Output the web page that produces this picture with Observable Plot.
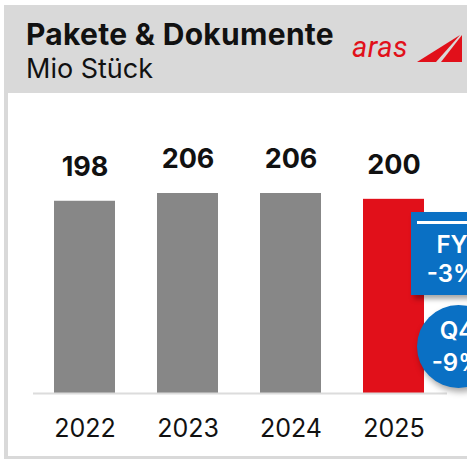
<!DOCTYPE html>
<html>
<head>
<meta charset="utf-8">
<script src="https://cdn.jsdelivr.net/npm/d3@7"></script>
<script src="https://cdn.jsdelivr.net/npm/@observablehq/plot@0.6"></script>
<style>
  html, body { margin: 0; padding: 0; background: #fff; overflow: hidden; width: 467px; height: 461px; }
  body { font-family: Inter, Roboto, sans-serif; }
  #outer { position: absolute; left: 4px; top: 5px; width: 463px; height: 454px; background: #d9d9d9; }
  #inner { position: absolute; left: 8px; top: 93px; width: 459px; height: 363px; background: #fff; }
  #title { position: absolute; left: 26px; top: 16px; font-size: 30px; font-weight: 700; color: #111; white-space: nowrap; letter-spacing: 0.3px; }
  #subtitle { position: absolute; left: 26px; top: 52px; font-size: 27px; font-weight: 400; color: #111; white-space: nowrap; }
  #logotext { position: absolute; left: 352px; top: 30px; font-family: Roboto, sans-serif; font-style: italic; font-size: 29px; line-height: 34px;
        color: #e1101a; letter-spacing: 0.5px; white-space: nowrap; padding-right: 4px; }
  #logo { position: absolute; left: 412px; top: 30px; }
  #chart { position: absolute; left: 0; top: 93px; }
  #fy { position: absolute; left: 411px; top: 212px; width: 82px; height: 83px; background: #0a70c4; color: #fff;
        box-shadow: 3px 4px 5px rgba(0,0,0,0.35); font-weight: 600; font-size: 24px; line-height: 29px; text-align: center; }
  #fy .bar { position: absolute; left: 6px; top: 9px; width: 76px; height: 3px; background: #fff; }
  #fy .t { position: absolute; left: 0; width: 82px; top: 18px; }
  #q4 { position: absolute; left: 417px; top: 305px; width: 83px; height: 83px; border-radius: 50%; background: #0a70c4; color: #fff;
        box-shadow: 2px 4px 6px rgba(0,0,0,0.35); font-weight: 600; font-size: 24px; line-height: 32px; text-align: center; }
  #q4 .t { position: absolute; left: 0; width: 80px; top: 10px; }
</style>
</head>
<body>
<div id="outer"></div>
<div id="inner"></div>
<div id="title">Pakete &amp; Dokumente</div>
<div id="subtitle">Mio Stück</div>
<div id="logotext">aras</div>
<svg id="logo" width="55" height="36" viewBox="0 0 55 36">
  <polygon points="5,32 48,5 24,32" fill="#e1101a"/>
  <polygon points="29,32 50,5 50,32" fill="#e1101a"/>
</svg>
<div id="chart"></div>
<div id="fy"><div class="bar"></div><div class="t">FY<br>-3%</div></div>
<div id="q4"><div class="t">Q4<br>-9%</div></div>
<script>
const years = ["2022", "2023", "2024", "2025"];
const values = [198, 206, 206, 200];
const barColors = ["#878787", "#878787", "#878787", "#e1101a"];

const data = years.map((y, i) => ({year: y, value: values[i], color: barColors[i]}));

const chart = Plot.plot({
  width: 467,
  height: 363,
  marginLeft: 11,
  marginRight: 0,
  marginTop: 0,
  marginBottom: 63,
  style: {background: "transparent", fontFamily: "Inter, Roboto, sans-serif", overflow: "visible"},
  x: {domain: years, padding: 0.41, label: null},
  y: {domain: [0, 309], axis: null},
  marks: [
    Plot.barY(data, {x: "year", y: "value", fill: "color"}),
    Plot.ruleY([0], {stroke: "#dcdcdc", strokeWidth: 2, insetLeft: 22, insetRight: 20}),
    Plot.text(data, {x: "year", y: "value", text: d => String(d.value), dy: -34,
      fontSize: 27, fontWeight: 700, fill: "#111"}),
    Plot.axisX({tickSize: 0, tickPadding: 26, fontSize: 25, label: null, color: "#111"})
  ]
});
document.getElementById("chart").appendChild(chart);
</script>
</body>
</html>
